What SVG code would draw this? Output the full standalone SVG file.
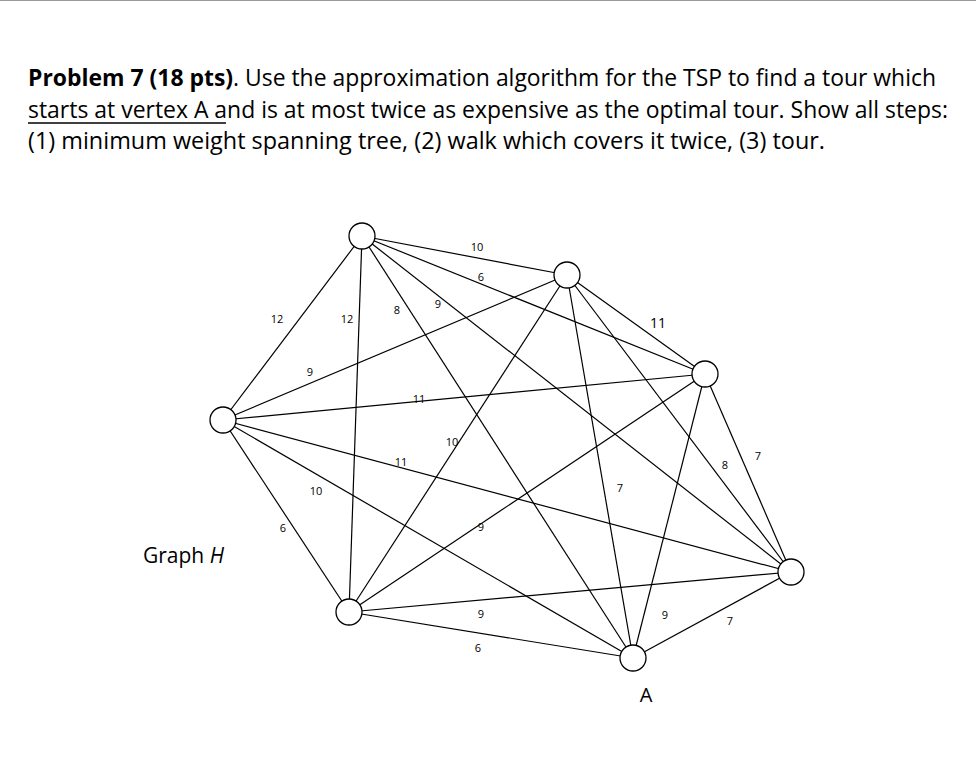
<svg xmlns="http://www.w3.org/2000/svg" width="976" height="775" viewBox="0 0 976 775">
<style>
.t{font-family:"Open Sans","Liberation Sans",sans-serif;font-size:23px;fill:#000}
.e line{stroke:#000;stroke-width:1.2}
.n circle{fill:#fff;stroke:#000;stroke-width:1.3}
.l{font-family:"Open Sans","Liberation Sans",sans-serif;font-size:11px;fill:#000;text-anchor:middle}
</style>
<rect width="976" height="775" fill="#fff"/>
<line x1="0" y1="0.5" x2="976" y2="0.5" stroke="#999"/>
<text class="t" x="28" y="86" textLength="908" lengthAdjust="spacingAndGlyphs"><tspan font-weight="bold">Problem 7 (18 pts)</tspan>. Use the approximation algorithm for the TSP to find a tour which</text>
<text class="t" x="28" y="118" textLength="920" lengthAdjust="spacingAndGlyphs">starts at vertex A and is at most twice as expensive as the optimal tour. Show all steps:</text>
<line x1="28" y1="123" x2="226" y2="123" stroke="#000" stroke-width="1.3"/>
<text class="t" x="28" y="149" textLength="797" lengthAdjust="spacingAndGlyphs">(1) minimum weight spanning tree, (2) walk which covers it twice, (3) tour.</text>
<g class="e" id="edges">
<line x1="362" y1="236" x2="223" y2="420"/>
<line x1="362" y1="236" x2="349" y2="612"/>
<line x1="362" y1="236" x2="633" y2="658"/>
<line x1="362" y1="236" x2="791" y2="572"/>
<line x1="362" y1="236" x2="705" y2="374"/>
<line x1="362" y1="236" x2="567" y2="275"/>
<line x1="223" y1="420" x2="567" y2="275"/>
<line x1="223" y1="420" x2="705" y2="374"/>
<line x1="223" y1="420" x2="791" y2="572"/>
<line x1="223" y1="420" x2="633" y2="658"/>
<line x1="223" y1="420" x2="349" y2="612"/>
<line x1="349" y1="612" x2="567" y2="275"/>
<line x1="349" y1="612" x2="705" y2="374"/>
<line x1="349" y1="612" x2="791" y2="572"/>
<line x1="349" y1="612" x2="633" y2="658"/>
<line x1="567" y1="275" x2="633" y2="658"/>
<line x1="567" y1="275" x2="791" y2="572"/>
<line x1="567" y1="275" x2="705" y2="374"/>
<line x1="705" y1="374" x2="633" y2="658"/>
<line x1="705" y1="374" x2="791" y2="572"/>
<line x1="633" y1="658" x2="791" y2="572"/>
</g>
<g id="labels">
<text class="l" x="277" y="323">12</text>
<text class="l" x="347" y="323">12</text>
<text class="l" x="397" y="314">8</text>
<text class="l" x="438" y="308">9</text>
<text class="l" x="481" y="281">6</text>
<text class="l" x="477" y="251">10</text>
<text class="l" x="310" y="376">9</text>
<text class="l" x="419" y="403">11</text>
<text class="l" x="401" y="466">11</text>
<text class="l" x="316" y="495">10</text>
<text class="l" x="283" y="532">6</text>
<text class="l" x="452" y="446">10</text>
<text class="l" x="481" y="531">9</text>
<text class="l" x="481" y="618">9</text>
<text class="l" x="478" y="652">6</text>
<text class="l" x="620" y="492">7</text>
<text class="l" x="725" y="469">8</text>
<text class="l" x="658" y="328" style="font-size:14px">11</text>
<text class="l" x="665" y="619">9</text>
<text class="l" x="758" y="460">7</text>
<text class="l" x="730" y="625">7</text>
</g>
<g class="n" id="v1"><circle cx="362" cy="236" r="13"/></g>
<g class="n" id="v2"><circle cx="567" cy="275" r="13"/></g>
<g class="n" id="v3"><circle cx="705" cy="374" r="13"/></g>
<g class="n" id="v4"><circle cx="791" cy="572" r="13"/></g>
<g class="n" id="vA"><circle cx="633" cy="658" r="13"/><text x="646" y="702" style="font-family:'Open Sans','Liberation Sans',sans-serif;font-size:20px" text-anchor="middle">A</text></g>
<g class="n" id="v6"><circle cx="349" cy="612" r="13"/></g>
<g class="n" id="v7"><circle cx="223" cy="420" r="13"/></g>
<text x="143" y="563" style="font-family:'Open Sans','Liberation Sans',sans-serif;font-size:21px">Graph <tspan font-style="italic">H</tspan></text>
</svg>
